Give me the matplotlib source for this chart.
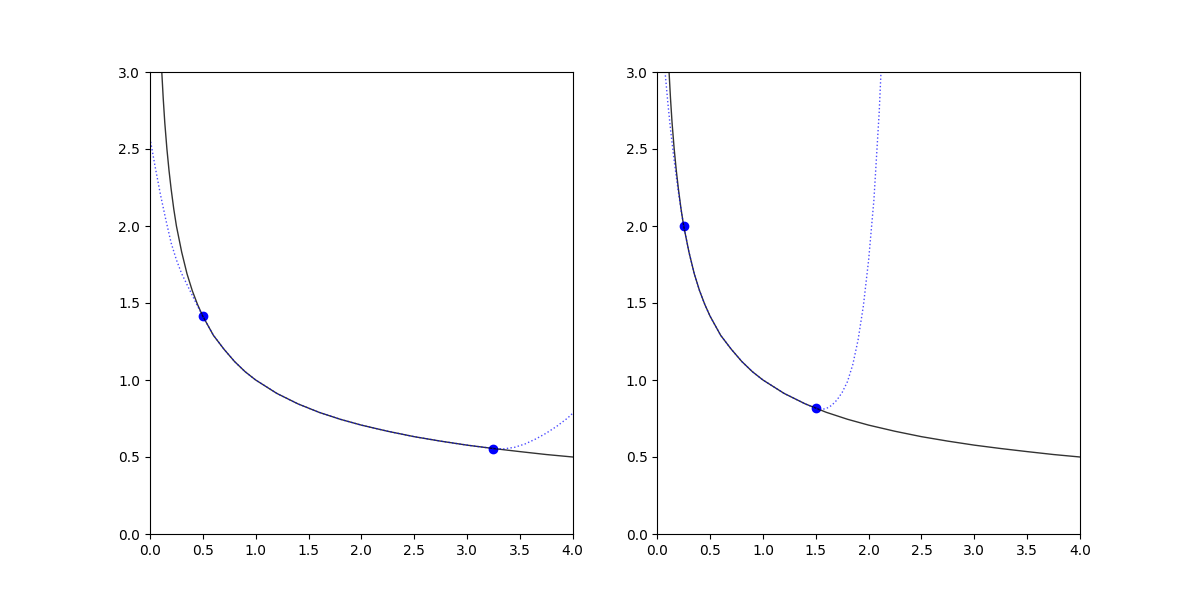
import matplotlib
matplotlib.use('Agg')
import matplotlib.pyplot as plt

# --- DATA ---
curve_x = [0.1, 0.11, 0.125, 0.14, 0.16, 0.18, 0.2, 0.225, 0.25, 0.3, 0.35, 0.4,
           0.45, 0.5, 0.6, 0.7, 0.8, 0.9, 1.0, 1.2, 1.4, 1.6, 1.8, 2.0, 2.25,
           2.5, 2.75, 3.0, 3.25, 3.5, 3.75, 4.0]
curve_y = [3.16, 3.02, 2.83, 2.67, 2.50, 2.36, 2.24, 2.11, 2.00, 1.83, 1.69, 1.58,
           1.49, 1.414, 1.29, 1.20, 1.12, 1.054, 1.00, 0.913, 0.845, 0.79, 0.745,
           0.707, 0.667, 0.632, 0.603, 0.577, 0.555, 0.535, 0.516, 0.50]

left_fit_x = [0.0, 0.05, 0.1, 0.15, 0.2, 0.25, 0.3, 0.35, 0.4, 0.45, 0.5,
              0.6, 0.7, 0.8, 0.9, 1.0, 1.2, 1.4, 1.6, 1.8, 2.0, 2.25, 2.5, 2.75,
              3.0, 3.25, 3.35, 3.45, 3.55, 3.65, 3.75, 3.85, 3.95, 4.0]
left_fit_y = [2.57, 2.38, 2.20, 2.04, 1.89, 1.78, 1.69, 1.62, 1.55, 1.48, 1.414,
              1.29, 1.20, 1.12, 1.054, 1.00, 0.913, 0.845, 0.79, 0.745, 0.707,
              0.667, 0.632, 0.603, 0.577, 0.555, 0.553, 0.563, 0.585, 0.617,
              0.655, 0.70, 0.752, 0.784]
left_nodes_x = [0.5, 3.25]
left_nodes_y = [1.414, 0.555]

right_fit_x = [0.07, 0.075, 0.1, 0.125, 0.15, 0.175, 0.2, 0.225, 0.25, 0.3, 0.35,
               0.4, 0.45, 0.5, 0.6, 0.7, 0.8, 0.9, 1.0, 1.2, 1.4, 1.5, 1.55, 1.6,
               1.65, 1.7, 1.75, 1.8, 1.85, 1.9, 1.95, 2.0, 2.05, 2.1, 2.13]
right_fit_y = [3.05, 2.99, 2.80, 2.63, 2.48, 2.345, 2.22, 2.105, 2.00, 1.83, 1.69,
               1.58, 1.49, 1.414, 1.29, 1.20, 1.12, 1.054, 1.00, 0.913, 0.845,
               0.816, 0.808, 0.815, 0.835, 0.87, 0.92, 0.99, 1.10, 1.26, 1.48,
               1.78, 2.17, 2.74, 3.2]
right_nodes_x = [0.25, 1.5]
right_nodes_y = [2.0, 0.816]

fig, axes = plt.subplots(1, 2, figsize=(12, 6), dpi=100)

panels = [(left_fit_x, left_fit_y, left_nodes_x, left_nodes_y),
          (right_fit_x, right_fit_y, right_nodes_x, right_nodes_y)]

for ax, (fx, fy, nx_, ny_) in zip(axes, panels):
    # nodes first, the curve is drawn over them
    ax.plot(nx_, ny_, 'bo', ms=6)
    ax.plot(curve_x, curve_y, color='k', alpha=0.8, lw=1)
    ax.plot(fx, fy, 'b:', alpha=0.7, lw=1)
    ax.set_xlim(0, 4)
    ax.set_ylim(0, 3)

plt.savefig('out.png')
